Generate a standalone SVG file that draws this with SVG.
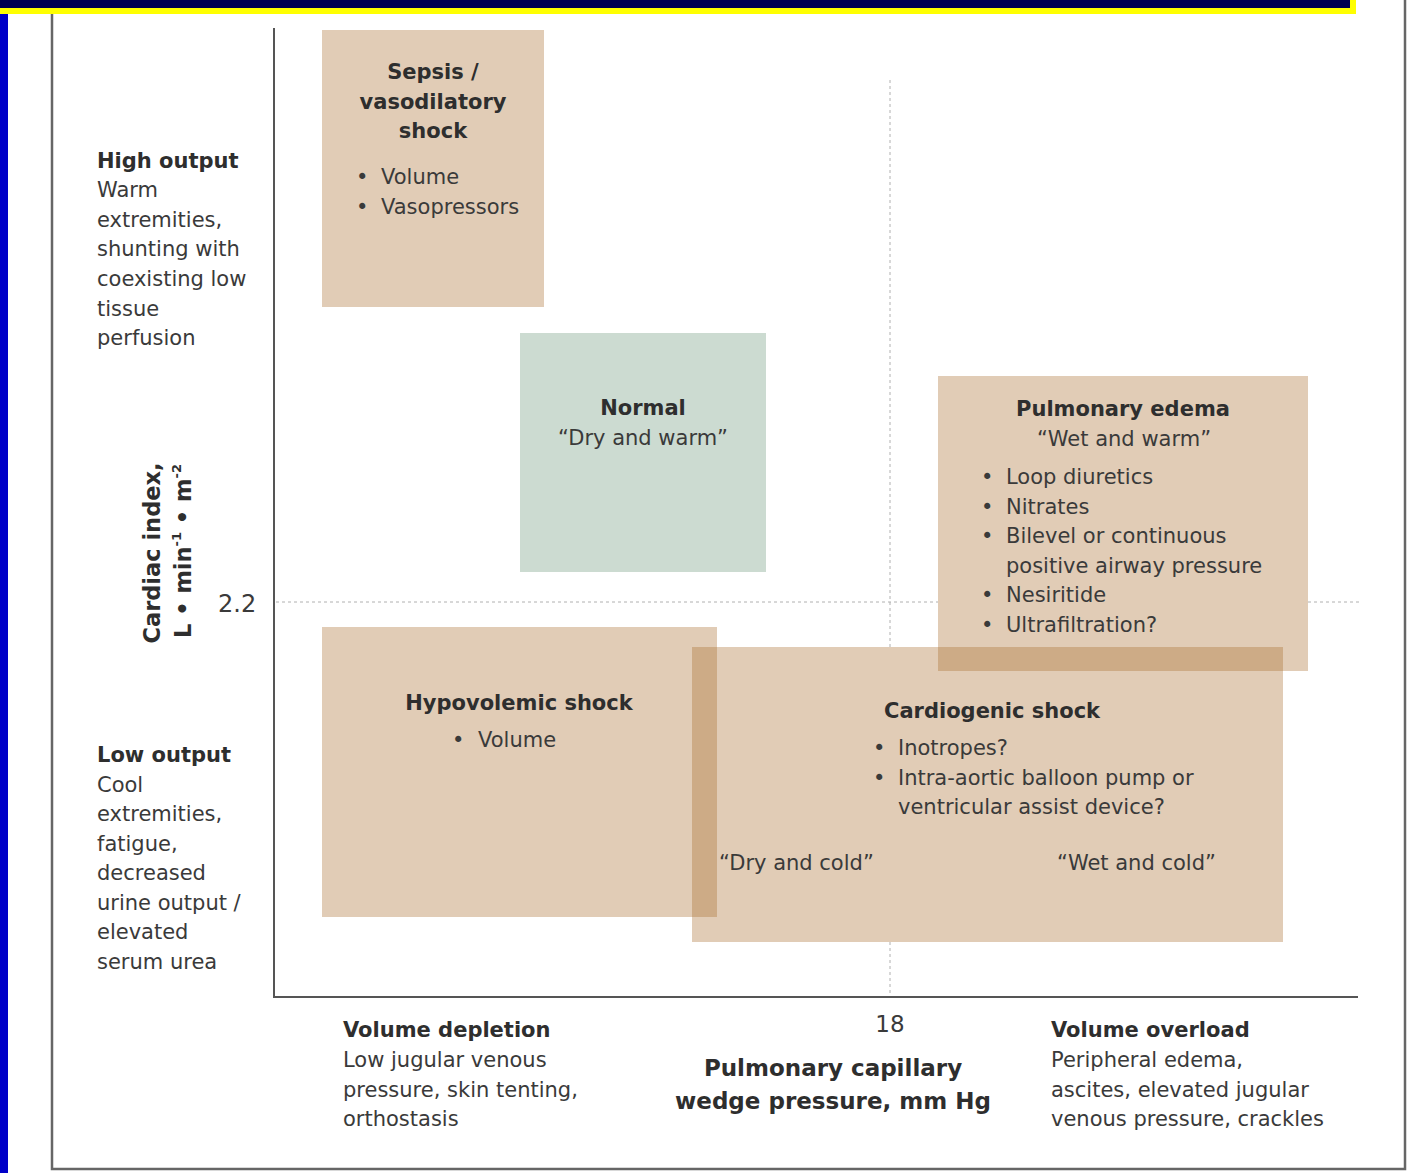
<svg xmlns="http://www.w3.org/2000/svg" width="1428" height="1173" viewBox="0 0 1428 1173">
<style>
text{font-family:"DejaVu Sans","Liberation Sans",sans-serif;font-size:21px;fill:#3a3a3a}
.b{font-weight:bold;fill:#2e2e2e}
.m{text-anchor:middle}
.tan{fill:#A96D2E;fill-opacity:0.35}
.dash{stroke:#b0b0b0;stroke-width:1;stroke-dasharray:3 3;fill:none}
.axis{stroke:#555;stroke-width:2;fill:none}
</style>
<rect x="0" y="0" width="1428" height="1173" fill="#fff"/>
<g id="frame">
<rect x="52" y="-5" width="1353" height="1174" fill="none" stroke="#666" stroke-width="2.5"/>
<rect x="0" y="0" width="1356" height="14" fill="#ffff00"/>
<rect x="0" y="0" width="1350" height="8" fill="#000050"/>
<rect x="0" y="14" width="8" height="1159" fill="#0000c8"/>
</g>
<g id="connectors">
<line class="dash" x1="890" y1="80" x2="890" y2="647"/>
<line class="dash" x1="890" y1="942" x2="890" y2="995"/>
<line class="dash" x1="276" y1="602" x2="938" y2="602"/>
<line class="dash" x1="1308" y1="602" x2="1360" y2="602"/>
<line class="axis" x1="274" y1="28" x2="274" y2="998"/>
<line class="axis" x1="273" y1="997" x2="1358" y2="997"/>
</g>
<g id="sepsis">
<rect class="tan" x="322" y="30" width="222" height="277"/>
<text class="b m" x="433" y="79">Sepsis /</text>
<text class="b m" x="433" y="109">vasodilatory</text>
<text class="b m" x="433" y="138">shock</text>
<text x="356" y="184">•</text><text x="381" y="184">Volume</text>
<text x="356" y="214">•</text><text x="381" y="214">Vasopressors</text>
</g>
<g id="normal">
<rect x="520" y="333" width="246" height="239" fill="#ccdbd1"/>
<text class="b m" x="643" y="415">Normal</text>
<text class="m" x="643" y="445">“Dry and warm”</text>
</g>
<g id="hypovolemic">
<rect class="tan" x="322" y="627" width="395" height="290"/>
<text class="b m" x="519" y="710">Hypovolemic shock</text>
<text x="452" y="747">•</text><text x="478" y="747">Volume</text>
</g>
<g id="cardiogenic">
<rect class="tan" x="692" y="647" width="591" height="295"/>
<text class="b" x="884" y="718">Cardiogenic shock</text>
<text x="873" y="755">•</text><text x="898" y="755">Inotropes?</text>
<text x="873" y="785">•</text><text x="898" y="785">Intra-aortic balloon pump or</text>
<text x="898" y="814">ventricular assist device?</text>
<text x="719" y="870">“Dry and cold”</text>
<text x="1057" y="870">“Wet and cold”</text>
</g>
<g id="pulmonary-edema">
<rect class="tan" x="938" y="376" width="370" height="295"/>
<text class="b m" x="1123" y="416">Pulmonary edema</text>
<text class="m" x="1124" y="446">“Wet and warm”</text>
<text x="981" y="484">•</text><text x="1006" y="484">Loop diuretics</text>
<text x="981" y="514">•</text><text x="1006" y="514">Nitrates</text>
<text x="981" y="543">•</text><text x="1006" y="543">Bilevel or continuous</text>
<text x="1006" y="573">positive airway pressure</text>
<text x="981" y="602">•</text><text x="1006" y="602">Nesiritide</text>
<text x="981" y="632">•</text><text x="1006" y="632">Ultrafiltration?</text>
</g>
<g id="high-output">
<text class="b" x="97" y="168">High output</text>
<text x="97" y="197">Warm</text>
<text x="97" y="227">extremities,</text>
<text x="97" y="256">shunting with</text>
<text x="97" y="286">coexisting low</text>
<text x="97" y="316">tissue</text>
<text x="97" y="345">perfusion</text>
</g>
<g id="low-output">
<text class="b" x="97" y="762">Low output</text>
<text x="97" y="792">Cool</text>
<text x="97" y="821">extremities,</text>
<text x="97" y="851">fatigue,</text>
<text x="97" y="880">decreased</text>
<text x="97" y="910">urine output /</text>
<text x="97" y="939">elevated</text>
<text x="97" y="969">serum urea</text>
</g>
<g id="y-axis-label">
<text class="b m" style="font-size:22.5px" transform="translate(160,553) rotate(-90)">Cardiac index,</text>
<text class="b m" style="font-size:22.5px" transform="translate(191,551) rotate(-90)">L • min<tspan style="font-size:13px" dy="-10">-1</tspan><tspan dy="10"> • m</tspan><tspan style="font-size:13px" dy="-10">-2</tspan></text>
<text style="font-size:24px" x="218" y="612">2.2</text>
</g>
<g id="volume-depletion">
<text class="b" x="343" y="1037">Volume depletion</text>
<text x="343" y="1067">Low jugular venous</text>
<text x="343" y="1097">pressure, skin tenting,</text>
<text x="343" y="1126">orthostasis</text>
</g>
<g id="x-axis-label">
<text class="m" style="font-size:23px" x="890" y="1032">18</text>
<text class="b m" style="font-size:23px" x="833" y="1076">Pulmonary capillary</text>
<text class="b m" style="font-size:23px" x="833" y="1109">wedge pressure, mm Hg</text>
</g>
<g id="volume-overload">
<text class="b" x="1051" y="1037">Volume overload</text>
<text x="1051" y="1067">Peripheral edema,</text>
<text x="1051" y="1097">ascites, elevated jugular</text>
<text x="1051" y="1126">venous pressure, crackles</text>
</g>
</svg>
